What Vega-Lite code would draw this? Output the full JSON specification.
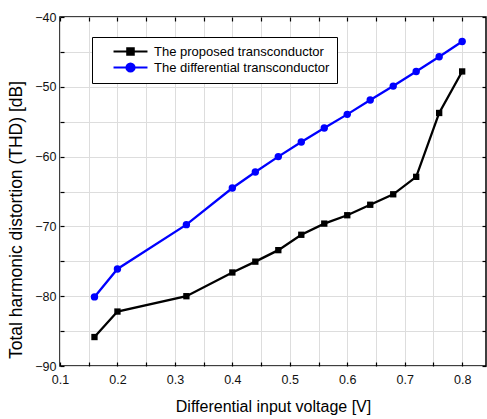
{
  "$schema": "https://vega.github.io/schema/vega-lite/v6.json",
  "width": 426,
  "height": 349,
  "autosize": "none",
  "padding": {"left": 60, "top": 17, "right": 1, "bottom": 53},
  "config": {
    "font": "Liberation Sans",
    "view": {"stroke": "black", "strokeWidth": 1.5},
    "axis": {
      "domain": false,
      "grid": true,
      "gridColor": "#dddddd",
      "gridWidth": 1,
      "tickColor": "black",
      "tickWidth": 1.2,
      "tickSize": -4,
      "labelColor": "#111111",
      "labelFontSize": 12.5,
      "labelFlush": false,
      "labelOverlap": false,
      "titleFontWeight": "normal",
      "titleColor": "black"
    }
  },
  "data": {
    "values": [
      {"series": "The proposed transconductor", "v": 0.16, "thd": -85.85},
      {"series": "The proposed transconductor", "v": 0.2, "thd": -82.2},
      {"series": "The proposed transconductor", "v": 0.32, "thd": -80.0},
      {"series": "The proposed transconductor", "v": 0.4, "thd": -76.6},
      {"series": "The proposed transconductor", "v": 0.44, "thd": -75.05},
      {"series": "The proposed transconductor", "v": 0.48, "thd": -73.4},
      {"series": "The proposed transconductor", "v": 0.52, "thd": -71.2},
      {"series": "The proposed transconductor", "v": 0.56, "thd": -69.6},
      {"series": "The proposed transconductor", "v": 0.6, "thd": -68.4},
      {"series": "The proposed transconductor", "v": 0.64, "thd": -66.9},
      {"series": "The proposed transconductor", "v": 0.68, "thd": -65.4},
      {"series": "The proposed transconductor", "v": 0.72, "thd": -62.9},
      {"series": "The proposed transconductor", "v": 0.76, "thd": -53.75},
      {"series": "The proposed transconductor", "v": 0.8, "thd": -47.8},
      {"series": "The differential transconductor", "v": 0.16, "thd": -80.1},
      {"series": "The differential transconductor", "v": 0.2, "thd": -76.1},
      {"series": "The differential transconductor", "v": 0.32, "thd": -69.75},
      {"series": "The differential transconductor", "v": 0.4, "thd": -64.5},
      {"series": "The differential transconductor", "v": 0.44, "thd": -62.2},
      {"series": "The differential transconductor", "v": 0.48, "thd": -60.0},
      {"series": "The differential transconductor", "v": 0.52, "thd": -57.9},
      {"series": "The differential transconductor", "v": 0.56, "thd": -55.9},
      {"series": "The differential transconductor", "v": 0.6, "thd": -53.95},
      {"series": "The differential transconductor", "v": 0.64, "thd": -51.9},
      {"series": "The differential transconductor", "v": 0.68, "thd": -49.9},
      {"series": "The differential transconductor", "v": 0.72, "thd": -47.8},
      {"series": "The differential transconductor", "v": 0.76, "thd": -45.7},
      {"series": "The differential transconductor", "v": 0.8, "thd": -43.5}
    ]
  },
  "layer": [
    {
      "mark": {"type": "line", "strokeWidth": 2.3},
      "encoding": {
        "x": {
          "field": "v", "type": "quantitative",
          "scale": {"domain": [0.1, 0.8415], "nice": false, "zero": false},
          "axis": {
            "title": "Differential input voltage [V]",
            "titleFontSize": 16,
            "values": [0.1, 0.15, 0.2, 0.25, 0.3, 0.35, 0.4, 0.45, 0.5, 0.55, 0.6, 0.65, 0.7, 0.75, 0.8],
            "labelExpr": "abs(datum.value * 10 - round(datum.value * 10)) < 0.01 ? format(datum.value, '.1f') : ''",
            "labelPadding": 11,
            "titlePadding": 13
          }
        },
        "y": {
          "field": "thd", "type": "quantitative",
          "scale": {"domain": [-90, -40], "nice": false, "zero": false},
          "axis": {
            "title": "Total harmonic distortion (THD) [dB]",
            "titleFontSize": 17.5,
            "titleY": 202.5,
            "values": [-90, -85, -80, -75, -70, -65, -60, -55, -50, -45, -40],
            "labelExpr": "datum.value % 10 === 0 ? format(datum.value, 'd') : ''",
            "labelPadding": 8,
            "titlePadding": 9
          }
        },
        "color": {
          "field": "series", "type": "nominal",
          "scale": {"domain": ["The proposed transconductor", "The differential transconductor"], "range": ["black", "blue"]},
          "legend": {
            "title": null,
            "orient": "none",
            "legendX": 32,
            "legendY": 20,
            "direction": "vertical",
            "strokeColor": "black",
            "fillColor": "white",
            "padding": 7,
            "labelFontSize": 13,
            "labelColor": "black",
            "labelLimit": 400,
            "labelOffset": 16,
            "labelExpr": "datum.label + '\u00a0\u00a0\u00a0'",
            "symbolOffset": 24,
            "rowPadding": -1.3,
            "symbolSize": 144,
            "symbolStrokeWidth": 2.2,
            "symbolOpacity": 1,
            "encode": {
              "symbols": {
                "update": {
                  "shape": {"signal": "datum.value === 'The proposed transconductor' ? 'M-2.83,0H2.83M-0.53,-0.53H0.53V0.53H-0.53Z' : 'M-2.83,0H2.83M0.67,0A0.67,0.67 0 1,1 -0.67,0A0.67,0.67 0 1,1 0.67,0Z'"},
                  "fill": {"signal": "datum.value === 'The proposed transconductor' ? 'black' : 'blue'"},
                  "stroke": {"signal": "datum.value === 'The proposed transconductor' ? 'black' : 'blue'"}
                }
              }
            }
          }
        }
      }
    },
    {
      "transform": [{"filter": "datum.series === 'The proposed transconductor'"}],
      "mark": {"type": "point", "filled": true, "opacity": 1, "shape": "square", "size": 40, "color": "black"},
      "encoding": {
        "x": {"field": "v", "type": "quantitative", "axis": null},
        "y": {"field": "thd", "type": "quantitative", "axis": null}
      }
    },
    {
      "transform": [{"filter": "datum.series === 'The differential transconductor'"}],
      "mark": {"type": "point", "filled": true, "opacity": 1, "shape": "circle", "size": 55, "color": "blue"},
      "encoding": {
        "x": {"field": "v", "type": "quantitative", "axis": null},
        "y": {"field": "thd", "type": "quantitative", "axis": null}
      }
    },
    {
      "mark": {"type": "line", "opacity": 0},
      "encoding": {
        "x": {
          "field": "v", "type": "quantitative",
          "axis": {"orient": "top", "labels": false, "grid": false, "title": null,
                   "values": [0.1, 0.15, 0.2, 0.25, 0.3, 0.35, 0.4, 0.45, 0.5, 0.55, 0.6, 0.65, 0.7, 0.75, 0.8]}
        },
        "y": {
          "field": "thd", "type": "quantitative",
          "axis": {"orient": "right", "labels": false, "grid": false, "title": null,
                   "values": [-90, -85, -80, -75, -70, -65, -60, -55, -50, -45, -40]}
        },
        "detail": {"field": "series", "type": "nominal"}
      }
    }
  ],
  "resolve": {"axis": {"x": "independent", "y": "independent"}}
}
